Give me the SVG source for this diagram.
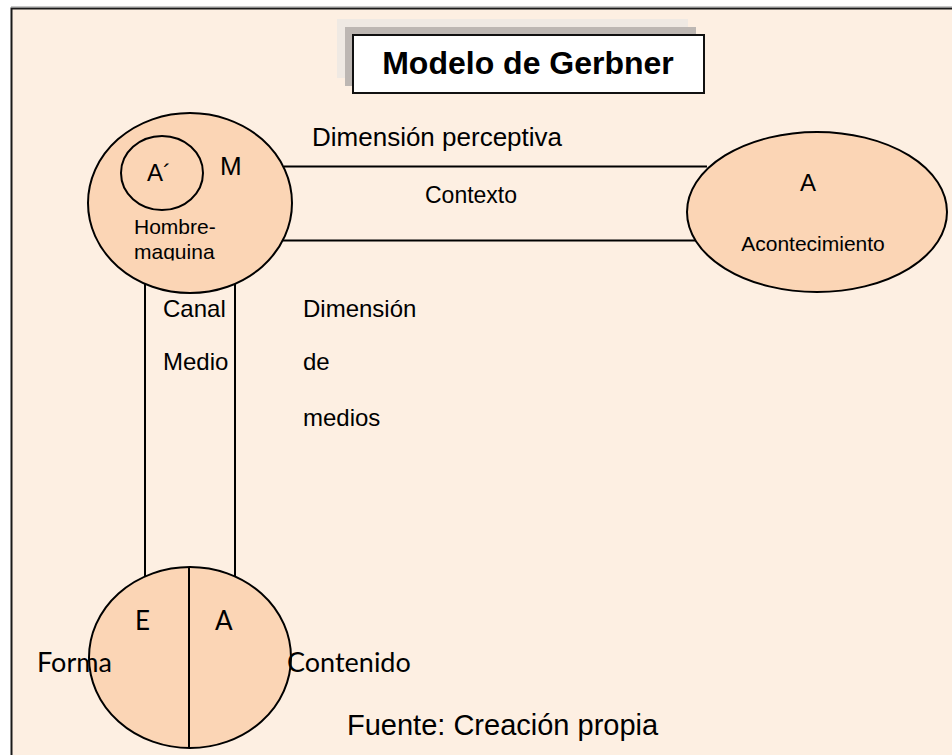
<svg xmlns="http://www.w3.org/2000/svg" width="952" height="755" viewBox="0 0 952 755">
<style>
.ar{font-family:"Liberation Sans",Arial,sans-serif;fill:#000}
.cb{font-family:Lato,"Open Sans",sans-serif;fill:#000}
.node{fill:#FBD5B5;stroke:#000;stroke-width:2}
.ln{stroke:#000;stroke-width:2;fill:none}
</style>
<defs>
<clipPath id="clipHM"><rect x="100" y="200" width="180" height="60.5"/></clipPath>
</defs>
<rect x="0" y="0" width="952" height="755" fill="#FFFFFF"/>
<rect x="11.5" y="8.5" width="950" height="760" fill="#FDEFE2" stroke="#1a1a1a" stroke-width="2"/>
<line x1="11" y1="6.5" x2="952" y2="6.5" stroke="#c8c8c8" stroke-width="1"/>
<g id="title">
<rect x="337" y="19" width="351" height="59" fill="#EFE9E3"/>
<rect x="345" y="27" width="351" height="59" fill="#BDB7B3"/>
<rect x="353" y="35" width="351" height="58" fill="#FFFFFF" stroke="#111" stroke-width="2"/>
<text class="ar" x="528" y="74" font-size="32" font-weight="bold" text-anchor="middle">Modelo de Gerbner</text>
</g>
<g id="connectors">
<line class="ln" x1="284" y1="166.5" x2="707" y2="166.5"/>
<line class="ln" x1="282" y1="240.5" x2="702" y2="240.5"/>
<line class="ln" x1="145" y1="284" x2="145" y2="582"/>
<line class="ln" x1="235" y1="281" x2="235" y2="579"/>
</g>
<g id="hombre-maquina">
<ellipse class="node" cx="190" cy="203" rx="102" ry="90"/>
<ellipse cx="162" cy="173" rx="41" ry="37" fill="none" stroke="#000" stroke-width="2"/>
<text class="ar" x="147" y="181" font-size="24">A´</text>
<text class="ar" x="220" y="175" font-size="26">M</text>
<text class="ar" x="134" y="234" font-size="21">Hombre-</text>
<text class="ar" x="134" y="259" font-size="21" clip-path="url(#clipHM)">maquina</text>
</g>
<g id="acontecimiento">
<ellipse class="node" cx="817" cy="212" rx="130" ry="80"/>
<text class="ar" x="808" y="191" font-size="24" text-anchor="middle">A</text>
<text class="ar" x="813" y="251" font-size="21" text-anchor="middle">Acontecimiento</text>
</g>
<g id="mensaje">
<ellipse class="node" cx="190" cy="657.5" rx="101" ry="90.5"/>
<line class="ln" x1="189" y1="567" x2="189" y2="748"/>
<text class="cb" x="135" y="630" font-size="26">E</text>
<text class="cb" x="215" y="630" font-size="26">A</text>
</g>
<g id="labels">
<text class="ar" x="312" y="146" font-size="26">Dimensión perceptiva</text>
<text class="ar" x="425" y="203" font-size="23">Contexto</text>
<text class="ar" x="163" y="317" font-size="24">Canal</text>
<text class="ar" x="163" y="370" font-size="24">Medio</text>
<text class="ar" x="303" y="317" font-size="24">Dimensión</text>
<text class="ar" x="303" y="370" font-size="24">de</text>
<text class="ar" x="303" y="426" font-size="24">medios</text>
<text class="cb" x="37" y="672" font-size="27">Forma</text>
<text class="cb" x="287" y="672" font-size="27">Contenido</text>
<text class="ar" x="347" y="735" font-size="29">Fuente: Creación propia</text>
</g>
</svg>
